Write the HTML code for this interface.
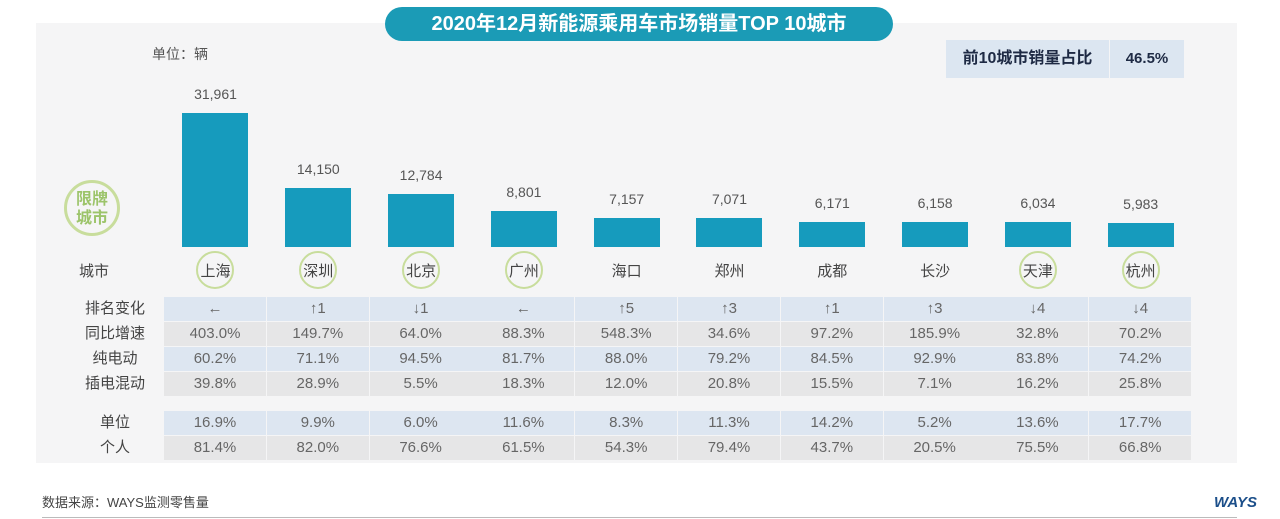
<!DOCTYPE html>
<html><head><meta charset="utf-8"><style>
*{margin:0;padding:0;box-sizing:border-box}
body{width:1280px;height:519px;background:#fff;position:relative;overflow:hidden;font-family:"Liberation Sans","Noto Sans CJK SC",sans-serif;color:#555}
.a{position:absolute}
.panel{left:36px;top:23px;width:1201px;height:440px;background:#f5f5f6}
.title{left:385px;top:7px;width:508px;height:34px;background:#1b9bb6;border-radius:17px;color:#fff;font-weight:bold;font-size:20px;line-height:34px;text-align:center}
.bar{background:#169bbd;width:66px}
.val{width:103px;text-align:center;font-size:14px;color:#555}
.city{width:103px;text-align:center;font-size:15px;color:#444;top:260px}
.ring{width:38px;height:38px;border:2px solid #c8dd9c;border-radius:50%;top:251px}
.cell{height:24px;width:102px;text-align:center;font-size:15px;line-height:24px;color:#666}
.lbl{left:70px;width:90px;text-align:center;font-size:15px;color:#444;height:24px;line-height:24px}
</style></head><body>
<div class="a panel"></div>
<div class="a title">2020年12月新能源乘用车市场销量TOP 10城市</div>
<div class="a" style="left:946px;top:40px;width:163px;height:38px;background:#dce6f1;font-weight:bold;font-size:16px;line-height:38px;text-align:center;color:#1e2a44">前10城市销量占比</div>
<div class="a" style="left:1110px;top:40px;width:74px;height:38px;background:#dce6f1;font-weight:bold;font-size:15px;line-height:38px;text-align:center;color:#1e2a44">46.5%</div>
<div class="a" style="left:152px;top:44px;font-size:14px;color:#555">单位：辆</div>
<div class="a" style="left:64px;top:180px;width:56px;height:56px;border:3px solid #c8dd9c;border-radius:50%;color:#9cc46a;font-weight:bold;font-size:16px;line-height:19px;text-align:center;padding-top:7px">限牌<br>城市</div>
<div class="a lbl" style="top:260px;left:49px;width:90px">城市</div>
<div id="c"></div>
<div class="a lbl" style="top:297px">排名变化</div>
<div class="a lbl" style="top:322px">同比增速</div>
<div class="a lbl" style="top:347px">纯电动</div>
<div class="a lbl" style="top:372px">插电混动</div>
<div class="a lbl" style="top:411px">单位</div>
<div class="a lbl" style="top:436px">个人</div>
<div class="a" style="left:42px;top:492px;font-size:13px;color:#444">数据来源：WAYS监测零售量</div>
<div class="a" style="left:42px;top:517px;width:1195px;height:1px;background:#bbb"></div>
<div class="a" style="left:1214px;top:494px;font-size:15px;font-weight:bold;font-style:italic;color:#1c4f8a">WAYS</div>
<script>
var cities=["上海","深圳","北京","广州","海口","郑州","成都","长沙","天津","杭州"];
var vals=["31,961","14,150","12,784","8,801","7,157","7,071","6,171","6,158","6,034","5,983"];
var tops=[113,188,194,211,218,218,222,222,222,223];
var ring=[1,1,1,1,0,0,0,0,1,1];
var rows=[["←","↑1","↓1","←","↑5","↑3","↑1","↑3","↓4","↓4"],
["403.0%","149.7%","64.0%","88.3%","548.3%","34.6%","97.2%","185.9%","32.8%","70.2%"],
["60.2%","71.1%","94.5%","81.7%","88.0%","79.2%","84.5%","92.9%","83.8%","74.2%"],
["39.8%","28.9%","5.5%","18.3%","12.0%","20.8%","15.5%","7.1%","16.2%","25.8%"],
["16.9%","9.9%","6.0%","11.6%","8.3%","11.3%","14.2%","5.2%","13.6%","17.7%"],
["81.4%","82.0%","76.6%","61.5%","54.3%","79.4%","43.7%","20.5%","75.5%","66.8%"]];
var rt=[297,322,347,372,411,436],rc=["#dde6f1","#e6e6e7","#dde6f1","#e6e6e7","#dde6f1","#e6e6e7"];
var h="";
for(var i=0;i<10;i++){var x=164+i*102.8,cx=x+51.4;
h+='<div class="a bar" style="left:'+(cx-33)+'px;top:'+tops[i]+'px;height:'+(247-tops[i])+'px"></div>';
h+='<div class="a val" style="left:'+x+'px;top:'+(tops[i]-27)+'px">'+vals[i]+'</div>';
if(ring[i])h+='<div class="a ring" style="left:'+(cx-19)+'px"></div>';
h+='<div class="a city" style="left:'+x+'px">'+cities[i]+'</div>';
for(var r=0;r<6;r++)h+='<div class="a cell" style="left:'+x+'px;top:'+rt[r]+'px;background:'+rc[r]+'">'+rows[r][i]+'</div>';}
document.getElementById("c").innerHTML=h;
</script>
</body></html>
